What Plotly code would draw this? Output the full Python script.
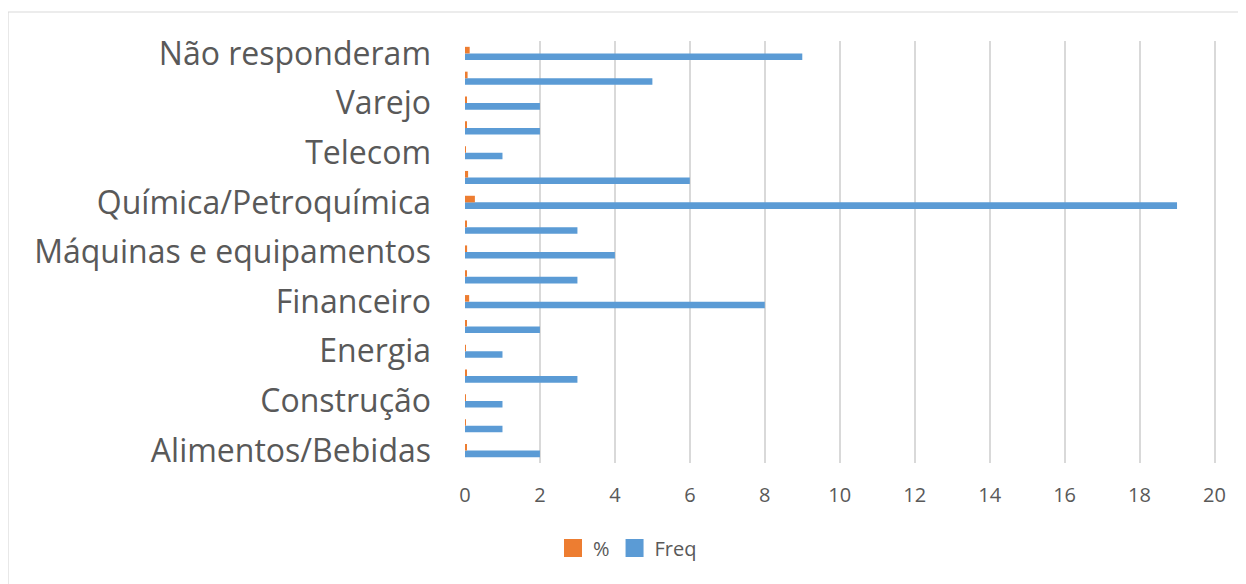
import plotly.graph_objects as go

# Categories, bottom to top (only every other label is shown on the axis)
categories = [
    "Alimentos/Bebidas", "Automotivo", "Construção", "Educação", "Energia",
    "Farmacêutico", "Financeiro", "Logística", "Máquinas e equipamentos",
    "Mineração", "Química/Petroquímica", "Serviços", "Telecom", "Transporte",
    "Varejo", "Outros", "Não responderam",
]
shown_labels = [
    "Alimentos/Bebidas", "Construção", "Energia", "Financeiro",
    "Máquinas e equipamentos", "Química/Petroquímica", "Telecom", "Varejo",
    "Não responderam",
]
freq = [2, 1, 1, 3, 1, 2, 8, 3, 4, 3, 19, 6, 1, 2, 2, 5, 9]
pct = [0.028, 0.014, 0.014, 0.042, 0.014, 0.028, 0.111, 0.042, 0.056,
       0.042, 0.264, 0.083, 0.014, 0.028, 0.028, 0.069, 0.125]
x_ticks = [0, 2, 4, 6, 8, 10, 12, 14, 16, 18, 20]

BLUE, ORANGE = "#5B9BD5", "#ED7D31"

# page body has an 8px margin, so the figure is placed at (8, 8)
OFF = 8
W, H = 1246 - OFF, 584 - OFF
L, R, T, B = 465 - OFF, 30, 41 - OFF, 121
pw, ph = W - L - R, H - T - B

fig = go.Figure()
fig.add_trace(go.Bar(y=categories, x=freq, orientation="h", name="Freq",
                     marker=dict(color=BLUE, line=dict(width=0)),
                     showlegend=False))
fig.add_trace(go.Bar(y=categories, x=pct, orientation="h", name="%",
                     marker=dict(color=ORANGE, line=dict(width=0)),
                     showlegend=False))
# legend entries with square swatches like the original
for name, col in (("%", ORANGE), ("Freq", BLUE)):
    fig.add_trace(go.Scatter(x=[None], y=[None], mode="markers", name=name,
                             marker=dict(symbol="square", size=16, color=col,
                                         line=dict(color=col, width=2)),
                             showlegend=True, hoverinfo="skip"))

font = "Open Sans, Segoe UI, sans-serif"
fig.update_layout(
    width=W, height=H,
    margin=dict(l=L, r=R, t=T, b=B, autoexpand=False),
    paper_bgcolor="white", plot_bgcolor="white",
    barmode="group", bargap=0.47, bargroupgap=0,
    font=dict(family=font, color="#595959"),
    showlegend=True,
    legend=dict(orientation="h", x=(553 - 465) / pw, xanchor="left",
                y=(463 - 548) / ph, yanchor="middle",
                font=dict(size=20, color="#595959"),
                traceorder="normal", itemwidth=30),
    xaxis=dict(range=[0, 20.04], tickvals=x_ticks, showgrid=True,
               gridcolor="#d9d9d9", gridwidth=1.5, zeroline=False,
               showline=False, tickfont=dict(size=20, color="#595959"),
               ticklabelstandoff=18, fixedrange=True),
    yaxis=dict(type="category", categoryorder="array", categoryarray=categories,
               tickvals=shown_labels, ticktext=shown_labels,
               showgrid=False, zeroline=False, showline=False,
               tickfont=dict(size=32, color="#595959"),
               ticklabelstandoff=33, fixedrange=True),
    shapes=[dict(type="rect", xref="paper", yref="paper",
                 x0=(8 - 465) / pw, x1=(1300 - 465) / pw,
                 y0=(463 - 640) / ph, y1=(463 - 12) / ph,
                 line=dict(color="#d9d9d9", width=1.2), layer="below")],
)

fig.write_html("out.html")
